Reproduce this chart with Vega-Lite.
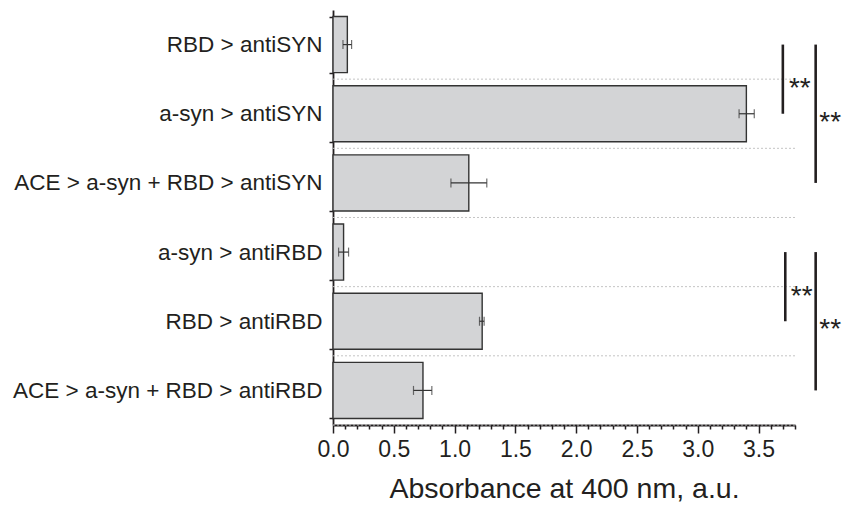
{
  "$schema": "https://vega.github.io/schema/vega-lite/v6.json",
  "autosize": "none",
  "width": 462,
  "height": 415,
  "padding": {"left": 333, "top": 10, "right": 56, "bottom": 81},
  "background": "white",
  "config": {
    "font": "Liberation Sans",
    "view": {"stroke": null},
    "axisX": {"labelOverlap": false, "labelFlush": false}
  },
  "datasets": {
    "bars": [
      {"cat": "RBD > antiSYN", "value": 0.118, "lo": 0.082, "hi": 0.153},
      {"cat": "a-syn > antiSYN", "value": 3.40, "lo": 3.34, "hi": 3.465},
      {"cat": "ACE > a-syn + RBD > antiSYN", "value": 1.117, "lo": 0.97, "hi": 1.265},
      {"cat": "a-syn > antiRBD", "value": 0.087, "lo": 0.046, "hi": 0.128},
      {"cat": "RBD > antiRBD", "value": 1.227, "lo": 1.205, "hi": 1.243},
      {"cat": "ACE > a-syn + RBD > antiRBD", "value": 0.74, "lo": 0.662, "hi": 0.813}
    ],
    "brackets": [
      {"from": "RBD > antiSYN", "to": "a-syn > antiSYN", "x": 3.70},
      {"from": "RBD > antiSYN", "to": "ACE > a-syn + RBD > antiSYN", "x": 3.97},
      {"from": "a-syn > antiRBD", "to": "RBD > antiRBD", "x": 3.72},
      {"from": "a-syn > antiRBD", "to": "ACE > a-syn + RBD > antiRBD", "x": 3.97}
    ],
    "starsEdge": [
      {"cat": "a-syn > antiSYN", "x": 3.75, "label": "**"},
      {"cat": "RBD > antiRBD", "x": 3.765, "label": "**"}
    ],
    "starsMid": [
      {"cat": "a-syn > antiSYN", "x": 4.0, "label": "**"},
      {"cat": "RBD > antiRBD", "x": 4.0, "label": "**"}
    ]
  },
  "encoding": {
    "y": {
      "field": "cat",
      "type": "nominal",
      "scale": {"domain": ["RBD > antiSYN", "a-syn > antiSYN", "ACE > a-syn + RBD > antiSYN", "a-syn > antiRBD", "RBD > antiRBD", "ACE > a-syn + RBD > antiRBD"], "paddingInner": 0.19, "paddingOuter": 0.095},
      "axis": {
        "title": null,
        "tickBand": "extent",
        "grid": false,
        "domainColor": "#231f20",
        "domainWidth": 1.8,
        "tickColor": "#231f20",
        "tickWidth": 1.5,
        "tickSize": 4,
        "labelPadding": 7,
        "labelLimit": 500,
        "labelFontSize": 22.5,
        "labelColor": "#231f20",
        "labelFont": "Liberation Sans"
      }
    }
  },
  "layer": [
    {
      "data": {"name": "bars"},
      "mark": {"type": "rule", "color": "#c4c4c4", "strokeDash": [2, 2], "strokeWidth": 1},
      "encoding": {
        "y": {"field": "cat", "type": "nominal", "bandPosition": 1.117}
      }
    },
    {
      "data": {"name": "bars"},
      "mark": {"type": "bar", "fill": "#d3d4d6", "stroke": "#333333", "strokeWidth": 1.4},
      "encoding": {
        "x": {
          "field": "value",
          "type": "quantitative",
          "scale": {"domain": [0, 3.8], "nice": false},
          "axis": {
            "title": "Absorbance at 400 nm, a.u.",
            "titleFontSize": 28.5,
            "titleFontWeight": "normal",
            "titleColor": "#231f20",
            "titlePadding": 13,
            "titleFont": "Liberation Sans",
            "grid": false,
            "tickCount": 200,
            "values": [0, 0.1, 0.2, 0.3, 0.4, 0.5, 0.6, 0.7, 0.8, 0.9, 1, 1.1, 1.2, 1.3, 1.4, 1.5, 1.6, 1.7, 1.8, 1.9, 2, 2.1, 2.2, 2.3, 2.4, 2.5, 2.6, 2.7, 2.8, 2.9, 3, 3.1, 3.2, 3.3, 3.4, 3.5, 3.6, 3.7, 3.8],
            "labelExpr": "abs(datum.value*2 - round(datum.value*2)) < 0.001 ? format(datum.value, '.1f') : ''",
            "labelOverlap": false,
            "labelFlush": false,
            "labelFontSize": 23,
            "labelColor": "#231f20",
            "labelFont": "Liberation Sans",
            "labelPadding": 5,
            "domainColor": "#231f20",
            "domainWidth": 1.8,
            "tickColor": "#231f20",
            "tickWidth": 1.5,
            "tickSize": {"condition": {"test": "abs(datum.value*2 - round(datum.value*2)) < 0.001", "value": 8}, "value": 4}
          }
        }
      }
    },
    {
      "data": {"name": "bars"},
      "mark": {"type": "rule", "color": "#333333", "strokeWidth": 1.2},
      "encoding": {
        "x": {"field": "lo", "type": "quantitative"},
        "x2": {"field": "hi"}
      }
    },
    {
      "data": {"name": "bars"},
      "mark": {"type": "tick", "color": "#333333", "size": 9, "thickness": 1.2},
      "encoding": {"x": {"field": "lo", "type": "quantitative"}}
    },
    {
      "data": {"name": "bars"},
      "mark": {"type": "tick", "color": "#333333", "size": 9, "thickness": 1.2},
      "encoding": {"x": {"field": "hi", "type": "quantitative"}}
    },
    {
      "data": {"name": "brackets"},
      "mark": {"type": "rule", "color": "#231f20", "strokeWidth": 2.6, "clip": false},
      "encoding": {
        "x": {"field": "x", "type": "quantitative"},
        "y": {"field": "from", "type": "nominal"},
        "y2": {"field": "to"}
      }
    },
    {
      "data": {"name": "starsEdge"},
      "mark": {"type": "text", "align": "left", "baseline": "alphabetic", "dy": 11.5, "fontSize": 28, "color": "#231f20", "clip": false},
      "encoding": {
        "x": {"field": "x", "type": "quantitative"},
        "y": {"field": "cat", "type": "nominal", "bandPosition": 0},
        "text": {"field": "label"}
      }
    },
    {
      "data": {"name": "starsMid"},
      "mark": {"type": "text", "align": "left", "baseline": "alphabetic", "dy": 17, "fontSize": 28, "color": "#231f20", "clip": false},
      "encoding": {
        "x": {"field": "x", "type": "quantitative"},
        "y": {"field": "cat", "type": "nominal", "bandPosition": 0.5},
        "text": {"field": "label"}
      }
    }
  ]
}
